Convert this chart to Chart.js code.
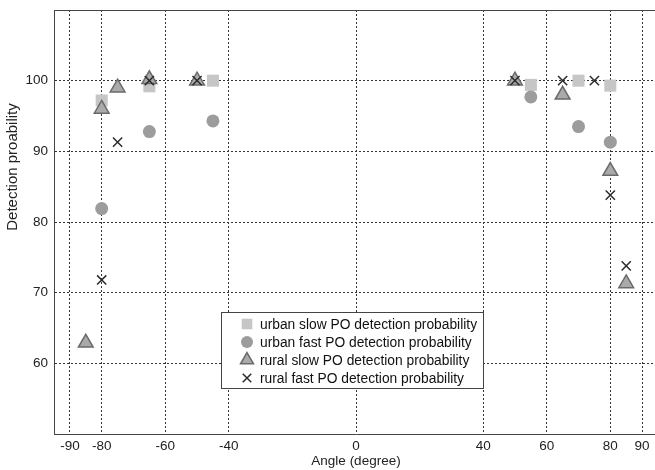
<!DOCTYPE html>
<html>
<head>
<meta charset="utf-8">
<script src="https://cdn.jsdelivr.net/npm/chart.js@4/dist/chart.umd.min.js"></script>
<style>
  html, body { margin: 0; padding: 0; background: #fff; overflow: hidden; }
  #wrap { width: 668px; height: 470px; }
</style>
</head>
<body>
<div id="wrap"><canvas id="chart" width="668" height="470"></canvas></div>
<script>
// tick labels
const xTicks = [-90, -80, -60, -40, 0, 40, 60, 80, 90]
const yTicks = [60, 70, 80, 90, 100]

// series
const urbanSlowAngle = [-80, -65, -45, 55, 70, 80]
const urbanSlowProb = [97.2, 99.2, 100, 99.4, 100, 99.3]

const urbanFastAngle = [-80, -65, -45, 55, 70, 80]
const urbanFastProb = [81.9, 92.8, 94.3, 97.7, 93.5, 91.3]

const ruralSlowAngle = [-85, -80, -75, -65, -50, 50, 65, 80, 85]
const ruralSlowProb = [62.9, 96.0, 99.0, 100.2, 100, 100, 98.0, 87.2, 71.3]

const ruralFastAngle = [-80, -75, -65, -50, 50, 65, 75, 80, 85]
const ruralFastProb = [71.8, 91.3, 100, 100, 100, 100, 100, 83.8, 73.8]

const yTitle = 'Detection proability'

const toPoints = (xs, ys) => xs.map((x, i) => ({ x: x, y: ys[i] }))
const FONT = "'Liberation Sans', Arial, sans-serif"

Chart.defaults.font.family = FONT
Chart.defaults.color = '#222'

// top edge of the box, y title (sits above the middle), legend box inside the plot
const frame = {
    id: 'frame',
    beforeDatasetsDraw(chart) {
        const { ctx, chartArea } = chart
        ctx.save()
        ctx.strokeStyle = '#444'
        ctx.lineWidth = 1
        ctx.beginPath()
        ctx.moveTo(chartArea.left, chartArea.top + 0.5)
        ctx.lineTo(chartArea.right, chartArea.top + 0.5)
        ctx.stroke()

        ctx.translate(13, chartArea.top + 157)
        ctx.rotate(-Math.PI / 2)
        ctx.font = '15px ' + FONT
        ctx.fillStyle = '#222'
        ctx.textAlign = 'center'
        ctx.textBaseline = 'middle'
        ctx.fillText(yTitle, 0, 0)
        ctx.restore()
    }
}

const legendBox = {
    id: 'legendBox',
    afterDatasetsDraw(chart) {
        const { ctx, chartArea, scales } = chart
        const w = 262, h = 76, rowH = 18
        const left = Math.round(scales.x.getPixelForValue(0) - 135)
        const top = Math.round(chartArea.bottom - 46 - h)
        ctx.save()
        ctx.fillStyle = '#fff'
        ctx.fillRect(left, top, w, h)
        ctx.strokeStyle = '#444'
        ctx.lineWidth = 1
        ctx.strokeRect(left + 0.5, top + 0.5, w, h)
        ctx.font = '13.8px ' + FONT
        ctx.textBaseline = 'middle'
        chart.data.datasets.forEach((ds, i) => {
            const y = top + 12 + i * rowH
            ctx.fillStyle = ds.backgroundColor
            ctx.strokeStyle = ds.borderColor
            ctx.lineWidth = ds.borderWidth
            Chart.helpers.drawPoint(ctx, {
                pointStyle: ds.pointStyle,
                radius: ds.legendRadius,
                rotation: 0,
                borderWidth: ds.borderWidth
            }, left + 26, y)
            ctx.fillStyle = '#111'
            ctx.fillText(ds.label, left + 39, y + 1)
        })
        ctx.restore()
    }
}

new Chart('chart', {
    type: 'scatter',
    data: {
        datasets: [
            {
                label: 'urban slow PO detection probability',
                data: toPoints(urbanSlowAngle, urbanSlowProb),
                pointStyle: 'rect',
                pointRadius: 8.5,
                legendRadius: 7.5,
                backgroundColor: '#c6c6c6',
                borderColor: '#c6c6c6',
                borderWidth: 0,
                order: 4
            },
            {
                label: 'urban fast PO detection probability',
                data: toPoints(urbanFastAngle, urbanFastProb),
                pointStyle: 'circle',
                pointRadius: 6.5,
                legendRadius: 6,
                backgroundColor: '#9c9c9c',
                borderColor: '#9c9c9c',
                borderWidth: 0,
                order: 3
            },
            {
                label: 'rural slow PO detection probability',
                data: toPoints(ruralSlowAngle, ruralSlowProb),
                pointStyle: 'triangle',
                pointRadius: 8.5,
                legendRadius: 7.5,
                backgroundColor: '#aaaaaa',
                borderColor: '#6a6a6a',
                borderWidth: 1.5,
                order: 2
            },
            {
                label: 'rural fast PO detection probability',
                data: toPoints(ruralFastAngle, ruralFastProb),
                pointStyle: 'crossRot',
                pointRadius: 6.5,
                legendRadius: 6,
                backgroundColor: '#2a2a2a',
                borderColor: '#2a2a2a',
                borderWidth: 1.5,
                order: 1
            }
        ]
    },
    options: {
        responsive: false,
        animation: false,
        layout: { padding: { top: 10, right: 3, left: 0, bottom: 0 } },
        plugins: {
            legend: { display: false },
            tooltip: { enabled: false }
        },
        scales: {
            x: {
                type: 'linear',
                min: -95,
                max: 95,
                afterBuildTicks: s => { s.ticks = xTicks.map(v => ({ value: v })) },
                afterFit: s => { s.height = 36; s.paddingLeft = 0; s.paddingRight = 0 },
                ticks: { padding: 4, font: { size: 13.5 }, color: '#222' },
                grid: { color: '#333', lineWidth: 1, drawTicks: false },
                border: { display: true, color: '#444', width: 1, dash: [2, 2] },
                title: { display: true, text: 'Angle (degree)', font: { size: 13.5 }, color: '#222', padding: { top: 0, bottom: 1 } }
            },
            y: {
                type: 'linear',
                min: 50,
                max: 110,
                afterBuildTicks: s => { s.ticks = yTicks.map(v => ({ value: v })) },
                afterFit: s => { s.width = 54; s.paddingTop = 0; s.paddingBottom = 0 },
                ticks: { padding: 6, font: { size: 13.5 }, color: '#222' },
                grid: { color: '#333', lineWidth: 1, drawTicks: false },
                border: { display: true, color: '#444', width: 1, dash: [2, 2] },
                title: { display: false }
            }
        }
    },
    plugins: [frame, legendBox]
})
</script>
</body>
</html>
